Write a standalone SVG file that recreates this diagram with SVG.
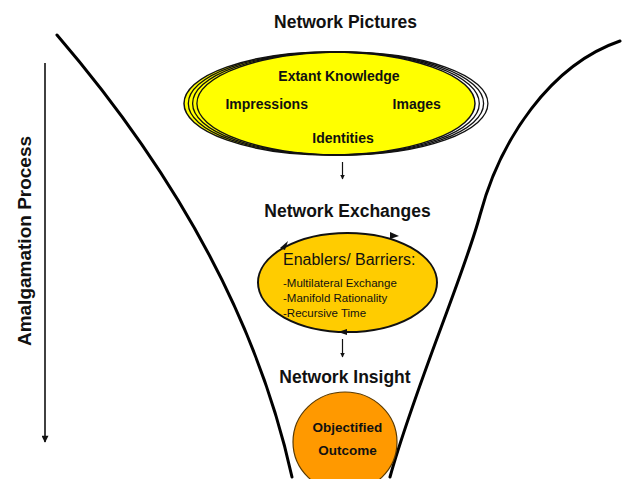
<svg xmlns="http://www.w3.org/2000/svg" width="622" height="479" viewBox="0 0 622 479">
  <defs>
    <marker id="arrow" viewBox="0 0 10 10" refX="9" refY="5" markerWidth="5" markerHeight="5" orient="auto" markerUnits="userSpaceOnUse">
      <path d="M0,0 L10,5 L0,10 z" fill="#111"/>
    </marker>
    <marker id="arrowBig" viewBox="0 0 10 10" refX="9" refY="5" markerWidth="8" markerHeight="7" orient="auto" markerUnits="userSpaceOnUse">
      <path d="M0,0 L10,5 L0,10 z" fill="#111"/>
    </marker>
  </defs>
  <style>
    text { font-family: "Liberation Sans", Arial, Helvetica, sans-serif; fill: #111; }
    .title { font-size: 17.5px; font-weight: bold; text-anchor: middle; }
    .item { font-size: 14px; font-weight: bold; text-anchor: middle; }
    .ring { fill: none; stroke: #111; stroke-width: 1.3; }
    .funnel { fill: none; stroke: #000; stroke-width: 3; stroke-linecap: round; }
    .conn { fill: none; stroke: #111; stroke-width: 1.2; }
  </style>
  <rect width="622" height="479" fill="#fff"/>

  <!-- funnel walls -->
  <g id="funnel">
    <path class="funnel" d="M57,35 C190,190 262,340 292,477"/>
    <path class="funnel" d="M620,41 C550,65 500,140 480,215 C464,275 415,387 390,477"/>
  </g>

  <!-- vertical process axis -->
  <g id="process-axis">
    <line x1="45" y1="63" x2="45" y2="442" stroke="#111" stroke-width="1.6" marker-end="url(#arrowBig)"/>
    <text transform="translate(31,241) rotate(-90)" font-size="19" font-weight="bold" text-anchor="middle">Amalgamation Process</text>
  </g>

  <!-- stage 1: network pictures -->
  <g id="network-pictures">
    <text class="title" x="345.5" y="27.7">Network Pictures</text>
    <ellipse cx="329.5" cy="103.5" rx="145.5" ry="51.5" fill="#ffff00" stroke="#111" stroke-width="1.5"/>
    <ellipse class="ring" cx="333.8" cy="103.5" rx="145.5" ry="51.5"/>
    <ellipse class="ring" cx="338.1" cy="103.5" rx="145.5" ry="51.5"/>
    <ellipse class="ring" cx="342.4" cy="103.5" rx="145.5" ry="51.5"/>
    <text class="item" x="339" y="80.7">Extant Knowledge</text>
    <text class="item" x="266.7" y="109.3">Impressions</text>
    <text class="item" x="416.7" y="109.3">Images</text>
    <text class="item" x="343" y="143.3">Identities</text>
  </g>

  <!-- stage 2: network exchanges -->
  <g id="network-exchanges">
    <text class="title" x="347.5" y="216.7">Network Exchanges</text>
    <ellipse cx="347.5" cy="282.5" rx="89.5" ry="49.5" fill="#ffcc00" stroke="#111" stroke-width="2"/>
    <!-- circulation marks on the outline -->
    <path d="M280,248 L288,241 L285,250 z" fill="#111"/>
    <path d="M390,232 L399,236 L390,239 z" fill="#111"/>
    <path d="M347,329 L338,332 L347,335 z" fill="#111"/>
    <text x="283" y="265" font-size="16">Enablers/ Barriers:</text>
    <text x="283" y="286.7" font-size="11.5">-Multilateral Exchange</text>
    <text x="283" y="302" font-size="11.5">-Manifold Rationality</text>
    <text x="283" y="316.7" font-size="11.5">-Recursive Time</text>
  </g>

  <!-- stage 3: network insight -->
  <g id="network-insight">
    <text class="title" x="345" y="383.3">Network Insight</text>
    <ellipse cx="345" cy="442" rx="52" ry="50" fill="#ff9900" stroke="#5a3a00" stroke-width="1.2"/>
    <text x="347.5" y="431.7" font-size="13.5" font-weight="bold" text-anchor="middle">Objectified</text>
    <text x="347.5" y="455" font-size="13.5" font-weight="bold" text-anchor="middle">Outcome</text>
  </g>

  <!-- connectors between stages -->
  <g id="connectors">
    <line class="conn" x1="342.5" y1="162" x2="342.5" y2="179" marker-end="url(#arrow)"/>
    <line class="conn" x1="342.5" y1="339" x2="342.5" y2="357" marker-end="url(#arrow)"/>
  </g>
</svg>
